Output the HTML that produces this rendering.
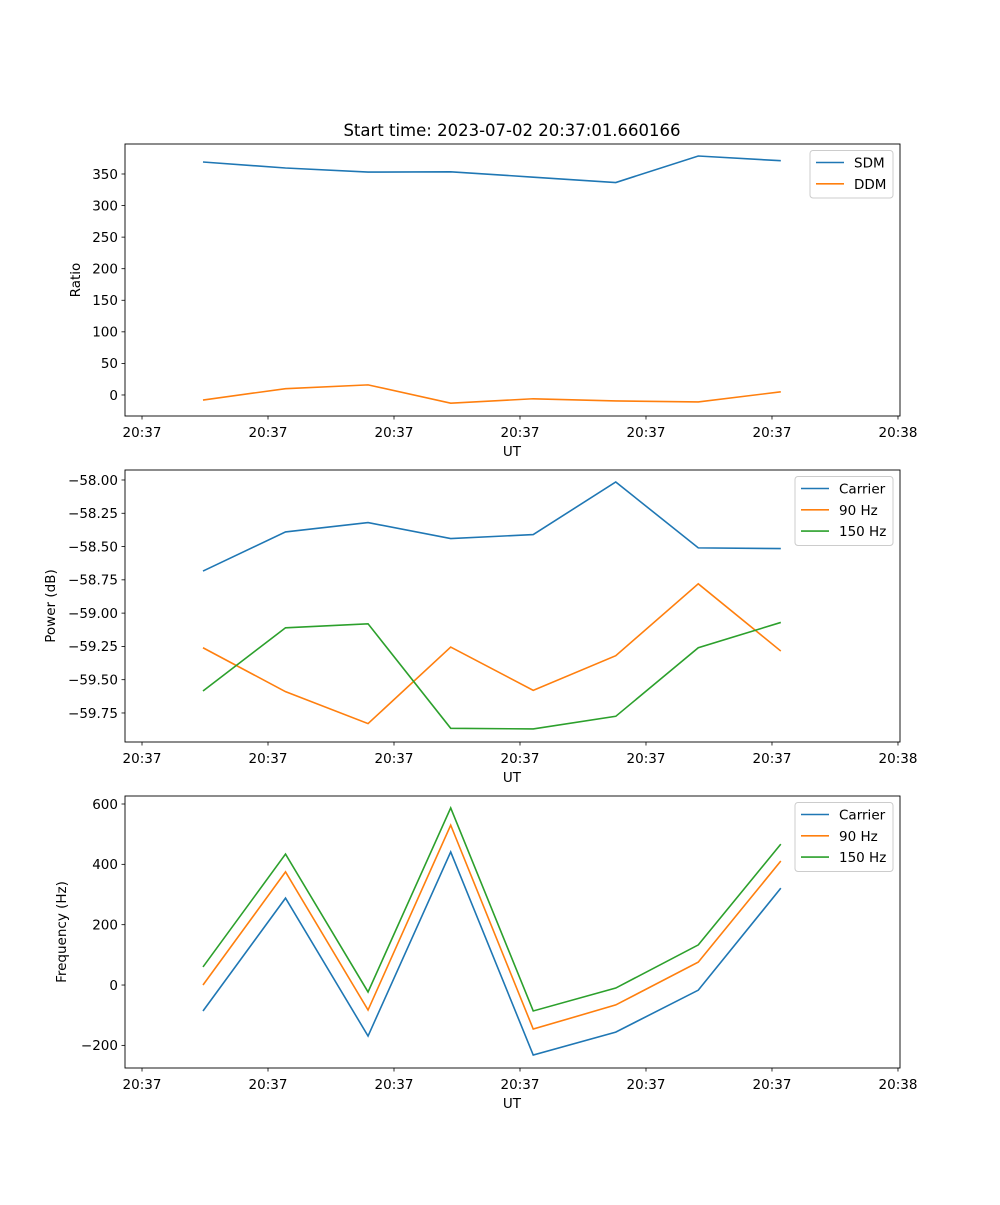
<!DOCTYPE html>
<html><head><meta charset="utf-8"><style>
html,body{margin:0;padding:0;background:#fff}
svg text{font-family:"DejaVu Sans","Liberation Sans",sans-serif;fill:#000}
</style></head><body>
<svg id="fig" width="1000" height="1200" xmlns="http://www.w3.org/2000/svg">
<rect width="1000" height="1200" fill="#fff"/>
<text x="512" y="136" font-size="16.5" text-anchor="middle">Start time: 2023-07-02 20:37:01.660166</text>
</svg>
<script>
const times = [0.484,1.139,1.794,2.45,3.105,3.76,4.415,5.07];
const xTicks = [0,1,2,3,4,5,6];
const xTickLabels = ["20:37","20:37","20:37","20:37","20:37","20:37","20:38"];
const sdm = [369,359.5,353,353.5,345,336.5,378.5,371];
const ddm = [-8,10,16,-13,-6,-9.5,-11,5];
const powCarrier = [-58.684,-58.39,-58.32,-58.44,-58.41,-58.015,-58.51,-58.515];
const pow90 = [-59.26,-59.59,-59.83,-59.255,-59.58,-59.32,-58.78,-59.285];
const pow150 = [-59.585,-59.11,-59.08,-59.865,-59.87,-59.775,-59.26,-59.07];
const freqCarrier = [-86,288,-169,441,-232,-156,-17,321];
const freq90 = [0,375,-83,530,-146,-66,76,411];
const freq150 = [60,434,-23,587,-86,-10,133,467];
const ticks1 = [0,50,100,150,200,250,300,350];
const ticks2 = [-59.75,-59.5,-59.25,-59.0,-58.75,-58.5,-58.25,-58.0];
const ticks3 = [-200,0,200,400,600];

const NS="http://www.w3.org/2000/svg";
const svg=document.getElementById('fig');
const C=['#1f77b4','#ff7f0e','#2ca02c'];
function mk(t,a,p){const e=document.createElementNS(NS,t);for(const k in a)e.setAttribute(k,a[k]);(p||svg).appendChild(e);return e;}
const L=125,R=900,xmin=-0.135,xmax=6.016;
const xs=t=>L+(t-xmin)/(xmax-xmin)*(R-L);
function fmt(v,d){const s=v.toFixed(d);return s.replace('-','\u2212');}
function panel(name,top,bot,ymin,ymax,ticks,dec,ylabel,ylx,series,labels,leg){
  const g=mk('g',{});
  
  
  const ys=v=>bot-(v-ymin)/(ymax-ymin)*(bot-top);
  ticks.forEach(v=>{const y=ys(v);
    const tl=mk('line',{x1:L-3.5,x2:L,y1:y,y2:y,stroke:'#000','stroke-width':0.8},g);
    
    const t=mk('text',{x:L-7,y:y+4.8,'font-size':13.5,'text-anchor':'end'},g);t.textContent=fmt(v,dec);
    });
  xTicks.forEach((v,i)=>{const x=xs(v);
    const tl=mk('line',{x1:x,x2:x,y1:bot,y2:bot+3.5,stroke:'#000','stroke-width':0.8},g);
    
    const t=mk('text',{x:x,y:bot+21,'font-size':13.5,'text-anchor':'middle'},g);t.textContent=xTickLabels[i];
    });
  const xl=mk('text',{x:512,y:bot+40,'font-size':13.5,'text-anchor':'middle'},g);xl.textContent='UT';
  
  const yl=mk('text',{x:ylx,y:(top+bot)/2,'font-size':13.5,'text-anchor':'middle',transform:`rotate(-90 ${ylx} ${(top+bot)/2})`},g);yl.textContent=ylabel;
  
  series.forEach((s,i)=>{
    const p=mk('polyline',{points:s.map((v,j)=>xs(times[j])+','+ys(v)).join(' '),fill:'none',stroke:C[i],'stroke-width':1.6},g);
    
    });
  const fr=mk('rect',{x:L,y:top,width:R-L,height:bot-top,fill:'none',stroke:'#000','stroke-width':0.9},g);
  
  const lg=mk('g',{},g);
  
  mk('rect',{x:leg[0],y:top+6.5,width:leg[1],height:labels.length*21.5+4.5,rx:3,fill:'#fff','fill-opacity':0.8,stroke:'#ccc','stroke-width':1},lg);
  labels.forEach((lb,i)=>{const y=top+18.5+i*21.3;
    const ln=mk('line',{x1:leg[0]+6,x2:leg[0]+34,y1:y,y2:y,stroke:C[i],'stroke-width':1.6},lg);
    
    const t=mk('text',{x:leg[0]+44,y:y+5,'font-size':13.5},lg);t.textContent=lb;
    });
}
panel('ratio-panel',144,416,-33.3,397.5,ticks1,0,'Ratio',80,[sdm,ddm],['SDM','DDM'],[810,83]);
panel('power-panel',470,742,-59.968,-57.925,ticks2,2,'Power (dB)',55,[powCarrier,pow90,pow150],['Carrier','90 Hz','150 Hz'],[795,98]);
panel('frequency-panel',796,1068,-275,626.5,ticks3,0,'Frequency (Hz)',66,[freqCarrier,freq90,freq150],['Carrier','90 Hz','150 Hz'],[795,98]);
</script>
</body></html>
